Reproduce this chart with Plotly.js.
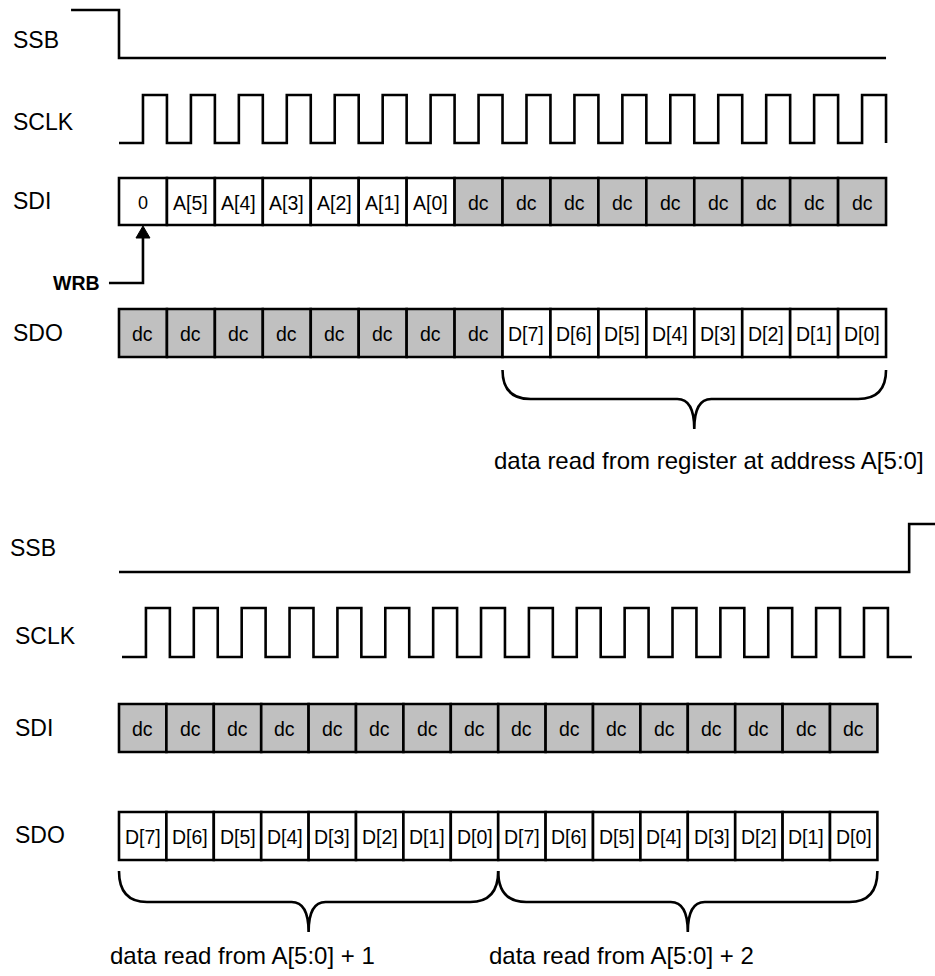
<!DOCTYPE html>
<html><head><meta charset="utf-8">
<script src="https://cdn.plot.ly/plotly-3.0.1.min.js"></script>
<style>html,body{margin:0;padding:0;background:#fff}#chart{width:935px;height:976px}</style>
</head><body><div id="chart"></div>
<script>
// ---------------- data ----------------
const signalNames = ["SSB", "SCLK", "SDI", "SDO"];

const topSdiLabels = ["0","A[5]","A[4]","A[3]","A[2]","A[1]","A[0]","dc","dc","dc","dc","dc","dc","dc","dc","dc"];
const topSdoLabels = ["dc","dc","dc","dc","dc","dc","dc","dc","D[7]","D[6]","D[5]","D[4]","D[3]","D[2]","D[1]","D[0]"];
const botSdiLabels = ["dc","dc","dc","dc","dc","dc","dc","dc","dc","dc","dc","dc","dc","dc","dc","dc"];
const botSdoLabels = ["D[7]","D[6]","D[5]","D[4]","D[3]","D[2]","D[1]","D[0]","D[7]","D[6]","D[5]","D[4]","D[3]","D[2]","D[1]","D[0]"];

// SSB waveforms (time in bit periods, level 1 = high)
const topSsbTimes  = [-1, 0, 16];
const topSsbLevels = [1, 0, 0];
const botSsbTimes  = [0, 16.67, 17.22];
const botSsbLevels = [0, 1, 1];

// SCLK waveforms
const topSclkTimes  = [0,0.5,1,1.5,2,2.5,3,3.5,4,4.5,5,5.5,6,6.5,7,7.5,8,8.5,9,9.5,10,10.5,11,11.5,12,12.5,13,13.5,14,14.5,15,15.5,16];
const topSclkLevels = [0,1,0,1,0,1,0,1,0,1,0,1,0,1,0,1,0,1,0,1,0,1,0,1,0,1,0,1,0,1,0,1,0];
const botSclkTimes  = [0,0.5,1,1.5,2,2.5,3,3.5,4,4.5,5,5.5,6,6.5,7,7.5,8,8.5,9,9.5,10,10.5,11,11.5,12,12.5,13,13.5,14,14.5,15,15.5,16,16.5];
const botSclkLevels = [0,1,0,1,0,1,0,1,0,1,0,1,0,1,0,1,0,1,0,1,0,1,0,1,0,1,0,1,0,1,0,1,0,0];

// braces under SDO (bit spans) and their captions
const topBraceStart = [8];
const topBraceEnd   = [16];
const topBraceText  = ["data read from register at address A[5:0]"];
const botBraceStart = [0, 8];
const botBraceEnd   = [8, 16];
const botBraceText  = ["data read from A[5:0] + 1", "data read from A[5:0] + 2"];

const wrbLabel = "WRB";
const wrbBit = 0;

// ---------------- geometry / style ----------------
const FONT = "Liberation Sans, Arial, Helvetica, sans-serif";
const LW = 2.6;
const GRAY = "#c0c0c0";
const TOP = {x0:119, w:47.94, c0:119, cw:47.94,
  ssb:{hi:10, lo:58}, clk:{hi:95, lo:143}, sdi:[178,225], sdo:[309,357],
  brace:[370,399,429], textY:460,
  labels:{x:[11,11,11,11], y:[40,122,201,333]}};
const BOT = {x0:119, w:47.4, c0:122, cw:47.87,
  ssb:{hi:524, lo:572}, clk:{hi:608, lo:657}, sdi:[704,752], sdo:[812,860],
  brace:[871,902,932], textY:955,
  labels:{x:[8,13,13,13], y:[548,636,728,835]}};

const traces = [];
const shapes = [];
const annotations = [];

function wave(times, levels, g, lv, x0, w) {
  traces.push({type:"scatter", mode:"lines", hoverinfo:"skip", cliponaxis:false,
    x: times.map(t => x0 + t*w),
    y: levels.map(l => l ? lv.hi : lv.lo),
    line:{color:"#000", width:LW, shape:"hv"}});
}
function cells(labels, g, rows) {
  labels.forEach((lab, i) => {
    const xa = g.x0 + i*g.w, xb = xa + g.w;
    shapes.push({type:"rect", xref:"x", yref:"y", x0:xa, x1:xb, y0:rows[0], y1:rows[1],
      fillcolor: lab === "dc" ? GRAY : "#fff", line:{color:"#000", width:LW}, layer:"below"});
    annotations.push({x:(xa+xb)/2, y:(rows[0]+rows[1])/2 + 1, xref:"x", yref:"y", text:lab,
      showarrow:false, xanchor:"center", yanchor:"middle",
      font:{family:FONT, size: lab.length === 1 ? 18 : 19.5, color:"#000"}});
  });
}
function bracePath(xa, xb, yTop, yH, yTip) {
  const xm = (xa+xb)/2, r = 28, r2 = 17;
  return `M${xa},${yTop} Q${xa},${yH} ${xa+r},${yH} L${xm-r2},${yH} Q${xm},${yH} ${xm},${yTip} ` +
         `Q${xm},${yH} ${xm+r2},${yH} L${xb-r},${yH} Q${xb},${yH} ${xb},${yTop}`;
}
function braces(starts, ends, texts, g) {
  starts.forEach((s, i) => {
    const xa = g.x0 + s*g.w, xb = g.x0 + ends[i]*g.w;
    shapes.push({type:"path", xref:"x", yref:"y", path: bracePath(xa, xb, g.brace[0], g.brace[1], g.brace[2]),
      line:{color:"#000", width:LW}});
    annotations.push({x: xa - 11, y: g.textY, xref:"x", yref:"y", text: texts[i], showarrow:false,
      xanchor:"left", yanchor:"middle", font:{family:FONT, size:24, color:"#000"}});
  });
}
function labels(g) {
  signalNames.forEach((n, i) => annotations.push({x:g.labels.x[i], y:g.labels.y[i], xref:"x", yref:"y",
    text:n, showarrow:false, xanchor:"left", yanchor:"middle", font:{family:FONT, size:23, color:"#000"}}));
}

// top diagram
wave(topSsbTimes, topSsbLevels, TOP, TOP.ssb, TOP.x0, TOP.w);
wave(topSclkTimes, topSclkLevels, TOP, TOP.clk, TOP.c0, TOP.cw);
cells(topSdiLabels, TOP, TOP.sdi);
cells(topSdoLabels, TOP, TOP.sdo);
braces(topBraceStart, topBraceEnd, topBraceText, TOP);
labels(TOP);

// WRB arrow into first SDI bit
const xc = TOP.x0 + (wrbBit + 0.5)*TOP.w;
const yW = 283;
traces.push({type:"scatter", mode:"lines", hoverinfo:"skip", x:[xc-34, xc, xc], y:[yW, yW, TOP.sdi[1]+10],
  line:{color:"#000", width:LW}});
shapes.push({type:"path", xref:"x", yref:"y",
  path:`M${xc},${TOP.sdi[1]+1} L${xc-7},${TOP.sdi[1]+13} L${xc+7},${TOP.sdi[1]+13} Z`,
  fillcolor:"#000", line:{color:"#000", width:1}});
annotations.push({x:xc-41, y:yW, xref:"x", yref:"y", text:"<b>"+wrbLabel+"</b>", showarrow:false,
  xanchor:"right", yanchor:"middle", font:{family:FONT, size:19.5, color:"#000"}});

// bottom diagram
wave(botSsbTimes, botSsbLevels, BOT, BOT.ssb, BOT.x0, BOT.w);
wave(botSclkTimes, botSclkLevels, BOT, BOT.clk, BOT.c0, BOT.cw);
cells(botSdiLabels, BOT, BOT.sdi);
cells(botSdoLabels, BOT, BOT.sdo);
braces(botBraceStart, botBraceEnd, botBraceText, BOT);
labels(BOT);

const layout = {
  width:935, height:976, margin:{l:0, r:0, t:0, b:0},
  paper_bgcolor:"#fff", plot_bgcolor:"#fff", showlegend:false,
  xaxis:{range:[0,935], visible:false, fixedrange:true},
  yaxis:{range:[976,0], visible:false, fixedrange:true},
  shapes, annotations
};
Plotly.newPlot("chart", traces, layout, {displayModeBar:false, staticPlot:true});
</script></body></html>
